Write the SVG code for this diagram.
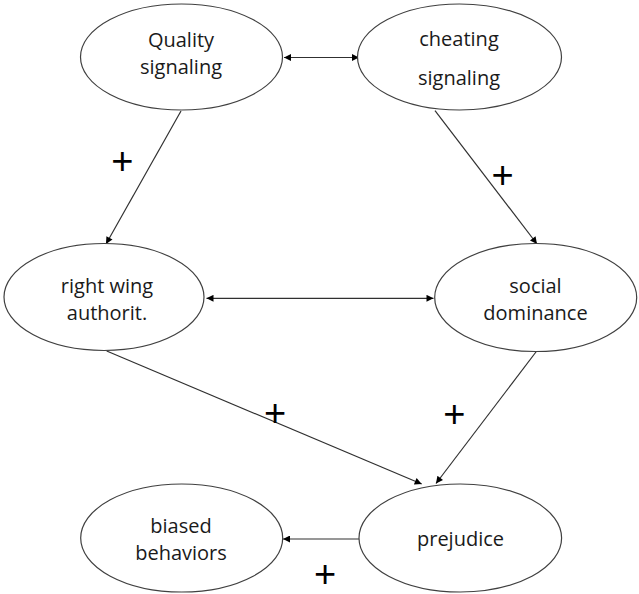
<svg xmlns="http://www.w3.org/2000/svg" width="639" height="594" viewBox="0 0 639 594">
<style>
.node ellipse{fill:#fff;stroke:#404040;stroke-width:1.2}
.node text{font-family:"Open Sans","DejaVu Sans",sans-serif;font-size:20px;fill:#1a1a1a;text-anchor:middle}
#connectors line{stroke:#303030;stroke-width:1.2;fill:none}
.plus{font-family:"Liberation Sans",Arial,sans-serif;font-size:38px;fill:#000;text-anchor:middle}
</style>
<defs>
<marker id="ah" viewBox="0 0 10 10" refX="10" refY="5" markerWidth="9" markerHeight="7" markerUnits="userSpaceOnUse" orient="auto-start-reverse">
<path d="M0,0 L10,5 L0,10 z" fill="#000"/>
</marker>
</defs>
<rect width="639" height="594" fill="#fff"/>
<g id="connectors">
<line x1="284" y1="57.5" x2="359" y2="57.5" marker-start="url(#ah)" marker-end="url(#ah)"/>
<line x1="206.5" y1="298.3" x2="433.5" y2="298.3" marker-start="url(#ah)" marker-end="url(#ah)"/>
<line x1="181" y1="111" x2="106" y2="244" marker-end="url(#ah)"/>
<line x1="435" y1="110.7" x2="537" y2="244" marker-end="url(#ah)"/>
<line x1="106.7" y1="351" x2="421.7" y2="484" marker-end="url(#ah)"/>
<line x1="536.7" y1="351" x2="436" y2="483.5" marker-end="url(#ah)"/>
<line x1="359" y1="539" x2="283" y2="539" marker-end="url(#ah)"/>
</g>
<g id="n-quality" class="node">
<ellipse cx="181.5" cy="57" rx="101" ry="53"/>
<text x="181" y="47">Quality</text>
<text x="181" y="74">signaling</text>
</g>
<g id="n-cheating" class="node">
<ellipse cx="459.5" cy="57" rx="102" ry="53"/>
<text x="459" y="46">cheating</text>
<text x="459" y="85">signaling</text>
</g>
<g id="n-rwa" class="node">
<ellipse cx="104" cy="297" rx="100" ry="53.5"/>
<text x="107" y="292.5">right wing</text>
<text x="107" y="320">authorit.</text>
</g>
<g id="n-sd" class="node">
<ellipse cx="535.7" cy="297.5" rx="101" ry="54"/>
<text x="535.5" y="292.5">social</text>
<text x="535.5" y="320">dominance</text>
</g>
<g id="n-biased" class="node">
<ellipse cx="181.7" cy="538" rx="101" ry="54"/>
<text x="181" y="532.5">biased</text>
<text x="181" y="560">behaviors</text>
</g>
<g id="n-prejudice" class="node">
<ellipse cx="460.3" cy="538" rx="101.3" ry="54"/>
<text x="460.5" y="546">prejudice</text>
</g>
<g id="labels">
<text class="plus" x="122.3" y="173.5">+</text>
<text class="plus" x="502.7" y="187.5">+</text>
<text class="plus" x="275" y="426">+</text>
<text class="plus" x="454.3" y="427">+</text>
<text class="plus" x="325" y="587">+</text>
</g>
</svg>
